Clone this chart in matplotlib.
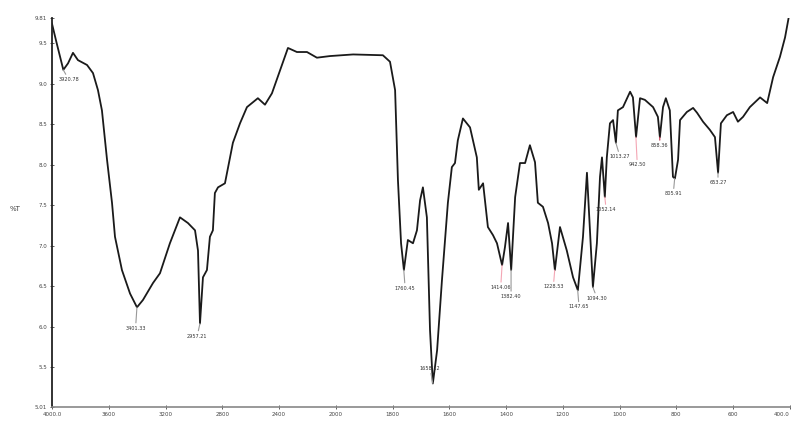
import numpy as np
import matplotlib
matplotlib.use('Agg')
import matplotlib.pyplot as plt

# spectrum trace (wavenumber cm-1, %T)
wavenumber = [4000, 3967, 3920, 3887, 3852, 3817, 3753, 3711, 3676, 3648, 3612, 3577,
              3556, 3507, 3450, 3401, 3359, 3288, 3239, 3169, 3098, 3042, 2992, 2971,
              2957, 2936, 2908, 2887, 2866, 2852, 2830, 2781, 2725, 2675, 2626, 2549,
              2499, 2450, 2337, 2274, 2203, 2133, 2041, 1939, 1834, 1809, 1791, 1781,
              1770, 1760, 1746, 1728, 1714, 1703, 1693, 1679, 1668, 1658, 1643, 1626,
              1605, 1591, 1580, 1570, 1552, 1527, 1503, 1496, 1481, 1464, 1446, 1432,
              1414, 1404, 1393, 1382, 1368, 1351, 1333, 1316, 1298, 1288, 1270, 1252,
              1238, 1228, 1210, 1186, 1164, 1147, 1129, 1115, 1105, 1094, 1080, 1069,
              1062, 1052, 1045, 1034, 1023, 1013, 1006, 988, 963, 953, 942, 928, 911,
              882, 865, 858, 847, 837, 823, 812, 805, 794, 787, 763, 741, 727, 706,
              682, 664, 653, 643, 622, 600, 583, 565, 541, 505, 480, 459, 435, 417, 405]
transmittance = [9.74, 9.50, 9.17, 9.25, 9.38, 9.29, 9.23, 9.13, 8.92, 8.67, 8.06, 7.53,
                 7.11, 6.70, 6.41, 6.24, 6.33, 6.54, 6.66, 7.03, 7.35, 7.28, 7.19, 6.94,
                 6.04, 6.61, 6.70, 7.11, 7.19, 7.65, 7.72, 7.77, 8.27, 8.51, 8.71, 8.82,
                 8.74, 8.88, 9.44, 9.39, 9.39, 9.32, 9.34, 9.36, 9.35, 9.27, 8.92, 7.81,
                 7.03, 6.70, 7.07, 7.03, 7.19, 7.56, 7.72, 7.35, 5.96, 5.30, 5.71, 6.57,
                 7.53, 7.97, 8.02, 8.30, 8.57, 8.46, 8.09, 7.69, 7.77, 7.23, 7.13, 7.03,
                 6.76, 6.98, 7.28, 6.70, 7.60, 8.02, 8.02, 8.24, 8.03, 7.53, 7.48, 7.28,
                 7.03, 6.70, 7.23, 6.94, 6.61, 6.45, 7.11, 7.90, 7.23, 6.49, 7.03, 7.85,
                 8.09, 7.60, 8.09, 8.51, 8.55, 8.27, 8.67, 8.71, 8.90, 8.83, 8.34, 8.82, 8.80,
                 8.71, 8.59, 8.34, 8.71, 8.82, 8.67, 7.85, 7.83, 8.06, 8.55, 8.65, 8.70, 8.64, 8.53,
                 8.43, 8.34, 7.90, 8.51, 8.61, 8.65, 8.53, 8.59, 8.71, 8.83, 8.76, 9.08, 9.33, 9.57, 9.80]

# labelled peaks
peak_wn = [3920.78, 3401.33, 2957.21, 1760.45, 1658.12, 1414.06, 1382.40, 1228.53,
           1147.65, 1094.30, 1052.14, 1013.27, 942.50, 858.36, 805.91, 653.27]
peak_t = [9.17, 6.24, 6.04, 6.70, 5.30, 6.76, 6.70, 6.70,
          6.45, 6.49, 7.60, 8.27, 8.34, 8.34, 7.83, 7.90]

xticks = [4000, 3600, 3200, 2800, 2400, 2000, 1800, 1600, 1400, 1200, 1000, 800, 600, 400]
xtick_labels = ['4000.0', '3600', '3200', '2800', '2400', '2000', '1800', '1600',
                '1400', '1200', '1000', '800', '600', '400.0']
yticks = [9.81, 9.5, 9.0, 8.5, 8.0, 7.5, 7.0, 6.5, 6.0, 5.5, 5.01]
ytick_labels = ['9.81', '9.5', '9.0', '8.5', '8.0', '7.5', '7.0', '6.5', '6.0', '5.5', '5.01']

# label offsets in points (dx, dy)
offsets = [(4, -7), (-1, -15), (-2, -9), (1, -13), (-2, 11), (-1, -16), (0, -19), (-1, -12),
           (1, -12), (3, -8), (1, -9), (3, -10), (1, -20), (0, -6), (-1, -11), (0, -7)]
marker_colors = ['#999999', '#999999', '#999999', '#999999', '#999999', '#f4a6b4', '#999999',
                 '#f4a6b4', '#999999', '#999999', '#f4a6b4', '#999999', '#f4a6b4', '#c0304a',
                 '#999999', '#999999']


def forward(w):
    w = np.asarray(w, dtype=float)
    return np.where(w > 2000, 8 + (w - 2000) / 400.0, (w - 400) / 200.0)


def inverse(p):
    p = np.asarray(p, dtype=float)
    return np.where(p > 8, 2000 + (p - 8) * 400.0, 400 + p * 200.0)


fig = plt.figure(figsize=(7.96, 4.21), dpi=100)
ax = fig.add_axes([0.0653, 0.0333, 0.927, 0.924])
ax.set_xscale('function', functions=(forward, inverse))

ax.plot(wavenumber, transmittance, color='#1a1a1a', lw=1.3)

for w, t, (dx, dy), c in zip(peak_wn, peak_t, offsets, marker_colors):
    ax.annotate(f'{w:.2f}', xy=(w, t), xytext=(dx, dy), textcoords='offset points',
                ha='center', va='center', fontsize=3.6, color='#333333',
                arrowprops=dict(arrowstyle='-', color=c, lw=0.8, shrinkA=0, shrinkB=0))

ax.set_xlim(4000, 400)
ax.set_ylim(5.01, 9.81)
ax.set_xticks(xticks)
ax.set_xticklabels(xtick_labels)
ax.set_yticks(yticks)
ax.set_yticklabels(ytick_labels)
ax.tick_params(axis='both', labelsize=4, colors='#444444', direction='inout', length=3, width=0.6, pad=2)
ax.get_xticklabels()[-1].set_horizontalalignment('right')

for s in ['top', 'right']:
    ax.spines[s].set_visible(False)
ax.spines['left'].set_color('#222222')
ax.spines['left'].set_linewidth(1.3)
ax.spines['bottom'].set_color('#888888')
ax.spines['bottom'].set_linewidth(1.2)

ax.set_ylabel('%T', rotation=0, fontsize=5, color='#444444')
ax.yaxis.set_label_coords(-0.05, 0.5)

fig.savefig('out.png', dpi=100)
